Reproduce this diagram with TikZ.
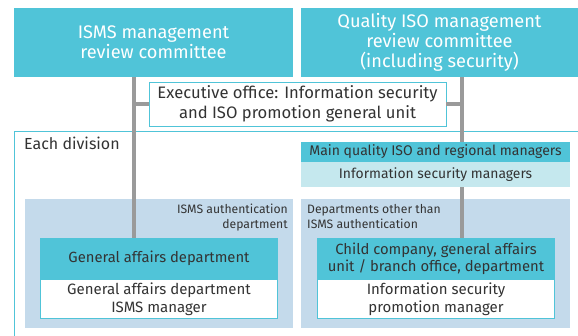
\documentclass[tikz,border=0pt]{standalone}
\usepackage{fontspec}
\setmainfont{Fira Sans}
\definecolor{cyanbox}{HTML}{50C4D8}
\definecolor{areablue}{HTML}{C4DAEB}
\definecolor{lightcyan}{HTML}{C5E8EE}
\definecolor{linegray}{HTML}{9A9A9A}
\definecolor{txt}{HTML}{333333}
\begin{document}
\begin{tikzpicture}[x=1pt,y=-1pt,
  topbox/.style={fill=cyanbox,text=white,font=\fontsize{18.2}{20}\selectfont,align=center,inner sep=0pt},
  area/.style={fill=areablue,inner sep=0pt},
  headbox/.style={fill=cyanbox,text=txt,font=\fontsize{14.8}{17}\selectfont,align=center,inner sep=0pt},
  subbox/.style={fill=white,draw=cyanbox,line width=0.8pt,text=txt,font=\fontsize{15}{17.5}\selectfont,align=center,inner sep=0pt},
  conn/.style={draw=linegray,line width=3.5pt},
  small/.style={text=txt,font=\fontsize{12.2}{15}\selectfont,inner sep=0pt}]
\useasboundingbox (0,0) rectangle (578,336);
% top committees
\node[topbox,minimum width=279pt,minimum height=69pt] (isms) at (153.5,42.5) {ISMS management\\review committee};
\node[topbox,minimum width=277pt,minimum height=69pt] (qual) at (439.5,42.5) {Quality ISO management\\review committee\\(including security)};
% each division frame
\draw[cyanbox,line width=0.8pt] (578,131) -- (14,131) -- (14,336);
\node[small,anchor=base west,font=\fontsize{16}{18}\selectfont] (each) at (24,150) {Each division};
% areas
\node[area,minimum width=268pt,minimum height=129pt] (larea) at (159,263.5) {};
\node[area,minimum width=269pt,minimum height=129pt] (rarea) at (435.5,263.5) {};
\node[small,align=right,anchor=north east] (lareatxt) at (288,204) {ISMS authentication\\department};
\node[small,align=left,anchor=north west] (rareatxt) at (307,204) {Departments other than\\ISMS authentication};
% coordinates for lines
\coordinate (lx) at (134,0);
\coordinate (rx) at (462,0);
% bottom boxes
\node[headbox,minimum width=238pt,minimum height=41pt] (ga) at (159,258.5) {General affairs department};
\node[headbox,minimum width=238pt,minimum height=41pt] (cc) at (436,258.5) {Child company, general affairs\\unit / branch office, department};
% connectors
\draw[conn] (isms.south -| lx) -- (ga.north -| lx);
\draw[conn] (qual.south -| rx) -- (cc.north -| rx);
% executive office
\node[subbox,font=\fontsize{16.6}{20}\selectfont,minimum width=297pt,minimum height=44pt] (exec) at (297.5,104) {Executive office: Information security\\and ISO promotion general unit};
\draw[conn] (exec.west) -- (exec.west -| lx);
\draw[conn] (exec.east) -- (exec.east -| rx);
% right managers
\node[headbox,font=\fontsize{14}{15}\selectfont,minimum width=269pt,minimum height=20pt] (mq) at (435.5,152) {Main quality ISO and regional managers};
\node[fill=lightcyan,text=txt,inner sep=0pt,font=\fontsize{13.9}{15}\selectfont,minimum width=269pt,minimum height=25pt] (ism) at (435.5,174.5) {Information security managers};
% sub boxes
\node[subbox,minimum width=237pt,minimum height=39pt,anchor=north] (gam) at (ga.south) {General affairs department\\ISMS manager};
\node[subbox,minimum width=237pt,minimum height=39pt,anchor=north] (ispm) at (cc.south) {Information security\\promotion manager};
\end{tikzpicture}
\end{document}
